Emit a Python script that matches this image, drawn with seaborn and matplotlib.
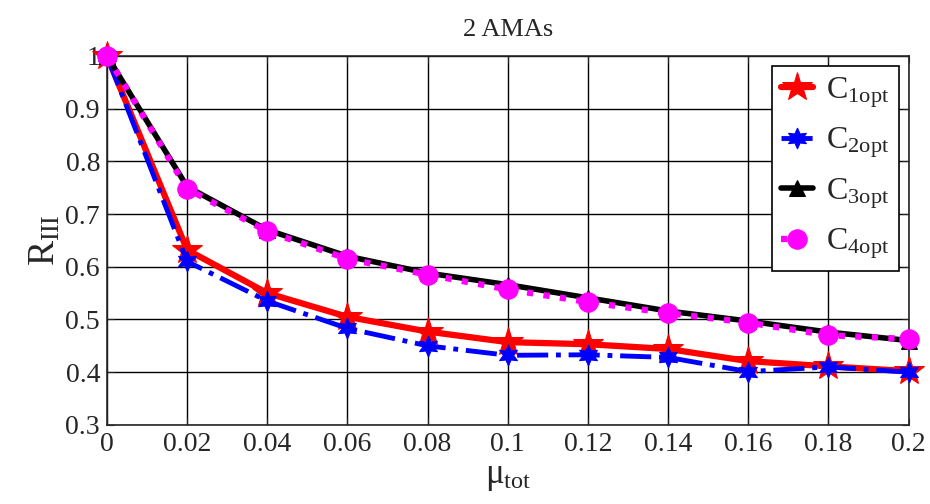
import numpy as np
import pandas as pd
import matplotlib
matplotlib.use('Agg')
import matplotlib.pyplot as plt
import seaborn as sns

# ── Data ──────────────────────────────────────────────
mu_tot = [0, 0.02, 0.04, 0.06, 0.08, 0.1, 0.12, 0.14, 0.16, 0.18, 0.2]
c1_opt = [1.0, 0.632, 0.550, 0.505, 0.477, 0.457, 0.453, 0.444, 0.421, 0.411, 0.402]
c2_opt = [1.0, 0.610, 0.535, 0.483, 0.450, 0.432, 0.433, 0.428, 0.401, 0.410, 0.400]
c3_opt = [1.0, 0.752, 0.670, 0.620, 0.588, 0.566, 0.541, 0.516, 0.497, 0.476, 0.460]
c4_opt = [1.0, 0.748, 0.667, 0.615, 0.585, 0.557, 0.533, 0.512, 0.494, 0.470, 0.463]

x_ticks = [0, 0.02, 0.04, 0.06, 0.08, 0.1, 0.12, 0.14, 0.16, 0.18, 0.2]
x_ticklabels = ['0', '0.02', '0.04', '0.06', '0.08', '0.1', '0.12', '0.14', '0.16', '0.18', '0.2']
y_ticks = [0.3, 0.4, 0.5, 0.6, 0.7, 0.8, 0.9, 1.0]
y_ticklabels = ['0.3', '0.4', '0.5', '0.6', '0.7', '0.8', '0.9', '1']

# ── Style ─────────────────────────────────────────────
sns.set_style('ticks')
plt.rcParams['font.family'] = ['Liberation Serif', 'DejaVu Serif']
plt.rcParams['mathtext.fontset'] = 'custom'
plt.rcParams['mathtext.rm'] = 'Liberation Serif'
plt.rcParams['mathtext.it'] = 'Liberation Serif'

fig = plt.figure(figsize=(9.3, 5.04), dpi=100)
ax = fig.add_axes([0.115, 0.157, 0.862, 0.732])

hexagram = (6, 1, 0)

series = [
    (c1_opt, r'C$_{\rm 1opt}$', 'red', '-', '*', 22, 4.5),
    (c2_opt, r'C$_{\rm 2opt}$', 'blue', '-.', hexagram, 15, 3.5),
    (c3_opt, r'C$_{\rm 3opt}$', 'black', '-', '^', 12, 4),
    (c4_opt, r'C$_{\rm 4opt}$', 'magenta', ':', 'o', 14, 4.5),
]

for vals, lab, col, ls, mk, ms, lw in series:
    df = pd.DataFrame({'mu': mu_tot, 'R': vals})
    sns.lineplot(data=df, x='mu', y='R', ax=ax, color=col, linestyle=ls,
                 marker=mk, markersize=ms, linewidth=lw, label=lab,
                 markeredgecolor=col, clip_on=False, zorder=3)

ax.set_xlim(0, 0.2)
ax.set_ylim(0.3, 1.0)
ax.set_xticks(x_ticks)
ax.set_xticklabels(x_ticklabels)
ax.set_yticks(y_ticks)
ax.set_yticklabels(y_ticklabels)
ax.tick_params(direction='in', labelsize=20, length=5, top=True, right=True, pad=5)
ax.grid(True, color='black', linewidth=1, linestyle='-')
for sp in ax.spines.values():
    sp.set_linewidth(1.2)
    sp.set_visible(True)

ax.set_title('2 AMAs', fontsize=19, pad=14)
ax.set_xlabel(r'$\mu_{\rm tot}$', fontsize=25, labelpad=2)
ax.set_ylabel(r'R$_{\rm III}$', fontsize=27, labelpad=2)

leg = ax.legend(loc='upper right', fontsize=23, frameon=True, fancybox=False,
                edgecolor='black', framealpha=1, handlelength=1.0,
                borderpad=0.3, labelspacing=0.5, handletextpad=0.4,
                borderaxespad=0.3)
leg.get_frame().set_linewidth(1.2)

plt.savefig('out.png', dpi=100)
